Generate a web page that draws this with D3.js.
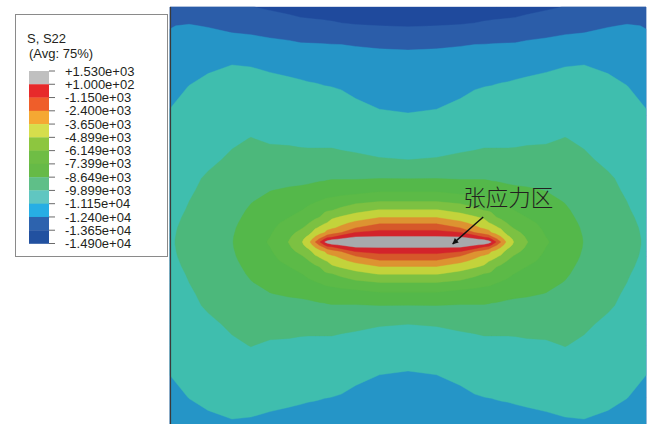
<!DOCTYPE html>
<html>
<head>
<meta charset="utf-8">
<script src="https://cdn.jsdelivr.net/npm/d3@7"></script>
<style>
  html, body { margin: 0; padding: 0; background: #fff; }
  svg { display: block; }
</style>
</head>
<body>
<svg id="chart" width="652" height="424"></svg>
<script>
// Quarter mesh of the cracked plate (mm): x from the plate centre to the right edge,
// y from the crack plane up to the top edge. The plate is symmetric about both axes.
const xNodes = [0, 6, 11, 14, 16, 17, 17.5, 18.5, 19.5, 21, 22.5, 25, 29, 33, 37, 42, 46, 50];
const yNodes = [0, 0.6, 1.2, 2, 3, 4, 5.2, 6.8, 8.6, 11, 13.5, 17.5, 22, 27, 33, 38, 42, 46, 50];

// Nodal S22 values, one row per yNode, one column per xNode
const s22Rows = [
  [1350, 1410, 1475, 1225, 850, 475, 100, -1150, -2400, -4150, -5090, -6090, -7275, -8025, -8690, -9210, -9650, -9990],
  [850, 850, 660, 225, -90, -460, -1025, -2150, -3090, -4400, -5210, -6210, -7340, -8050, -8700, -9210, -9650, -9990],
  [75, 40, -25, -650, -1650, -1900, -2400, -3090, -3710, -4775, -5460, -6340, -7425, -8090, -8710, -9225, -9660, -10000],
  [-710, -710, -1090, -2400, -2900, -3275, -3650, -4025, -4400, -5400, -5840, -6525, -7525, -8150, -8740, -9250, -9675, -10010],
  [-1650, -1650, -2400, -3340, -3840, -4025, -4340, -4710, -5025, -5840, -6275, -6775, -7650, -8210, -8775, -9275, -9700, -10025],
  [-2525, -2525, -3275, -3960, -4400, -4840, -4960, -5275, -5650, -6210, -6590, -7025, -7775, -8300, -8825, -9310, -9740, -10050],
  [-3650, -3650, -4340, -4710, -5090, -5460, -5710, -6090, -6340, -6650, -6900, -7400, -7960, -8400, -8900, -9360, -9775, -10090],
  [-4840, -4840, -5275, -5840, -6210, -6275, -6340, -6650, -6840, -7150, -7460, -7710, -8150, -8525, -9000, -9440, -9840, -10150],
  [-6150, -6150, -6460, -6775, -7025, -7090, -7150, -7340, -7460, -7650, -7900, -8150, -8400, -8690, -9125, -9550, -9900, -10225],
  [-7590, -7590, -7900, -7960, -8025, -8090, -8150, -8210, -8275, -8400, -8460, -8525, -8675, -8900, -9300, -9700, -10000, -10350],
  [-8675, -8650, -8710, -8710, -8710, -8750, -8775, -8800, -8840, -8875, -8925, -8960, -9025, -9150, -9490, -9775, -10125, -10500],
  [-9900, -9840, -9710, -9650, -9590, -9590, -9590, -9590, -9590, -9590, -9590, -9590, -9550, -9525, -9750, -10090, -10340, -10775],
  [-10460, -10400, -10275, -10210, -10150, -10150, -10150, -10150, -10150, -10150, -10125, -10050, -10025, -9875, -10050, -10400, -10590, -11000],
  [-11110, -11025, -10710, -10650, -10590, -10590, -10590, -10590, -10575, -10560, -10550, -10400, -10340, -10275, -10340, -10650, -10840, -11060],
  [-11650, -11625, -11460, -11210, -11150, -11125, -11110, -11060, -11025, -10960, -10900, -10775, -10650, -10590, -10590, -10900, -11125, -11460],
  [-12090, -12060, -12025, -11960, -11900, -11875, -11860, -11850, -11775, -11825, -11710, -11650, -11460, -11250, -11190, -11340, -11525, -11840],
  [-12525, -12500, -12440, -12400, -12375, -12360, -12350, -12340, -12325, -12310, -12300, -12150, -12025, -11840, -11775, -11775, -11900, -12275],
  [-13710, -13650, -13590, -13525, -13460, -13440, -13425, -13410, -13400, -13375, -13350, -13275, -13090, -12900, -12775, -12460, -12340, -12425],
  [-14775, -14650, -14460, -14340, -14210, -14175, -14150, -14125, -14100, -14060, -14025, -13900, -13775, -13625, -13400, -13210, -13090, -12900]
];

// Lower bound of every contour band (MPa), lowest first
const contourLevels = [-14900, -13650, -12400, -11150, -9899, -8649, -7399, -6149, -4899, -3650, -2400, -1150, 100];
// Values written beside the colour bar, top to bottom
const legendValues = [1530, 100, -1150, -2400, -3650, -4899, -6149, -7399, -8649, -9899, -11150, -12400, -13650, -14900];

const legendTitle = ["S, S22", "(Avg: 75%)"];
const annotationText = "张应力区";
const annotationLabelAt = [11.6, 7.7];   // mm
const arrowTail = [15.8, 5.3];           // mm
const arrowTip = [9.4, -0.4];            // mm

// Band fills on the plate and on the colour bar, lowest band first
const plotColors = ["#1f4a9d", "#2b5da9", "#2595c7", "#3fbeae", "#4cb87b", "#54b84a", "#5cba47",
                    "#7cc142", "#c3d33b", "#dd9331", "#d6582a", "#d3232b", "#a7a9ac"];
const barColors  = ["#2251a0", "#2d63ae", "#27aee4", "#60c6c1", "#5fbf88", "#66ba47", "#6fbd45",
                    "#8dc63f", "#d6de4c", "#f5a833", "#ef5e2a", "#e72a2b", "#c0c0c0"];

const svg = d3.select("#chart");

// ---- build the full mesh by mirroring the quarter ----
const nq = xNodes.length, mq = yNodes.length;
const xs = [...xNodes.slice(1).map(v => -v).reverse(), ...xNodes];
const xIdx = [...d3.range(nq - 1, 0, -1), ...d3.range(nq)];
const ys = [...yNodes.slice().reverse(), ...yNodes.slice(1).map(v => -v)];
const yIdx = [...d3.range(mq - 1, -1, -1), ...d3.range(1, mq)];
const nx = xs.length, ny = ys.length;
const field = new Array(nx * ny);
for (let j = 0; j < ny; j++) {
  for (let i = 0; i < nx; i++) field[j * nx + i] = s22Rows[yIdx[j]][xIdx[i]];
}

// ---- scales ----
const x = d3.scaleLinear().domain([-50, 50]).range([170, 646]);
const y = d3.scaleLinear().domain([-50, 50]).range([477, 7]);
const colToX = d3.scaleLinear().domain(d3.range(nx)).range(xs).clamp(true);
const rowToY = d3.scaleLinear().domain(d3.range(ny)).range(ys).clamp(true);

// grid units from d3.contours -> node coordinates -> pixels
const meshProjection = d3.geoTransform({
  point(u, v) { this.stream.point(x(colToX(u - 0.5)), y(rowToY(v - 0.5))); }
});
const path = d3.geoPath(meshProjection);

const bands = d3.contours().size([nx, ny]).thresholds(contourLevels)(field);

const plot = svg.append("g").attr("class", "plot");
plot.selectAll("path.band")
  .data(bands)
  .join("path")
  .attr("class", "band")
  .attr("d", path)
  .attr("fill", (d, i) => plotColors[i])
  .attr("stroke", (d, i) => plotColors[i])
  .attr("stroke-width", 0.4);

// left edge of the plate
plot.append("line")
  .attr("x1", x(-50) + 0.5).attr("x2", x(-50) + 0.5)
  .attr("y1", y(50)).attr("y2", 424)
  .attr("stroke", "#3a3a3a").attr("stroke-width", 1.2);

// ---- annotation ----
const defs = svg.append("defs");
defs.append("marker")
  .attr("id", "head")
  .attr("viewBox", "0 0 10 10")
  .attr("refX", 9).attr("refY", 5)
  .attr("markerWidth", 7).attr("markerHeight", 6)
  .attr("markerUnits", "userSpaceOnUse")
  .attr("orient", "auto")
  .append("path").attr("d", "M0,0 L10,5 L0,10 Z").attr("fill", "#111");

svg.append("line")
  .attr("x1", x(arrowTail[0])).attr("y1", y(arrowTail[1]))
  .attr("x2", x(arrowTip[0])).attr("y2", y(arrowTip[1]))
  .attr("stroke", "#111").attr("stroke-width", 1.4)
  .attr("marker-end", "url(#head)");

svg.append("text")
  .attr("x", x(annotationLabelAt[0])).attr("y", y(annotationLabelAt[1]))
  .attr("font-family", "'Noto Sans CJK SC', sans-serif")
  .attr("font-size", 22.5)
  .attr("font-weight", 300)
  .attr("fill", "#231f20")
  .text(annotationText);

// ---- legend ----
const legend = svg.append("g").attr("class", "legend");
legend.append("rect")
  .attr("x", 15.5).attr("y", 14.5).attr("width", 152).attr("height", 242)
  .attr("fill", "#fff").attr("stroke", "#8a8a8a").attr("stroke-width", 1);

legend.selectAll("text.title")
  .data(legendTitle)
  .join("text")
  .attr("class", "title")
  .attr("x", (d, i) => i === 0 ? 27 : 29)
  .attr("y", (d, i) => i === 0 ? 43 : 57.5)
  .attr("font-family", "'Liberation Sans', Arial, sans-serif")
  .attr("font-size", 13)
  .attr("fill", "#231f20")
  .text(d => d);

const barScale = d3.scaleLinear().domain([0, legendValues.length - 1]).range([71, 243.5]);
const swatches = d3.range(legendValues.length - 1);
legend.selectAll("rect.swatch")
  .data(swatches)
  .join("rect")
  .attr("class", "swatch")
  .attr("x", 29).attr("width", 20)
  .attr("y", i => barScale(i))
  .attr("height", i => barScale(i + 1) - barScale(i) + 0.3)
  .attr("fill", i => barColors[barColors.length - 1 - i]);

function abaqusFormat(v) {
  const sign = v < 0 ? "-" : "+";
  const a = Math.abs(v);
  const e = a === 0 ? 0 : Math.floor(Math.log10(a));
  let m = a / Math.pow(10, e);
  const ms = m.toFixed(3);
  return sign + ms + "e" + (e < 0 ? "-" : "+") + String(Math.abs(e)).padStart(2, "0");
}

legend.selectAll("line.tick")
  .data(legendValues)
  .join("line")
  .attr("class", "tick")
  .attr("x1", 49).attr("x2", 55)
  .attr("y1", (d, i) => barScale(i)).attr("y2", (d, i) => barScale(i))
  .attr("stroke", "#444").attr("stroke-width", 0.8);

legend.selectAll("text.value")
  .data(legendValues)
  .join("text")
  .attr("class", "value")
  .attr("x", 65)
  .attr("y", (d, i) => barScale(i) + 4.6)
  .attr("font-family", "'Liberation Sans', Arial, sans-serif")
  .attr("font-size", 13)
  .attr("fill", "#231f20")
  .text(d => abaqusFormat(d));
</script>
</body>
</html>
